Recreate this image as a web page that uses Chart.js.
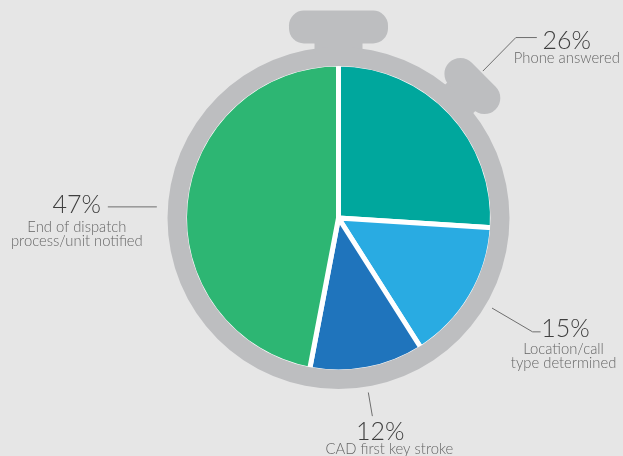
<!DOCTYPE html>
<html>
<head>
<meta charset="utf-8">
<title>Dispatch time breakdown</title>
<script src="https://cdn.jsdelivr.net/npm/chart.js@4.4.1/dist/chart.umd.min.js"></script>
<style>
  html, body { margin: 0; padding: 0; background: #e6e6e6; }
  #wrap { width: 623px; height: 456px; }
</style>
</head>
<body>
<div id="wrap"><canvas id="dispatchChart" width="623" height="456"></canvas></div>
<script>
// slice data, clockwise from 12 o'clock
const stages = [
  ["Phone answered"],
  ["Location/call", "type determined"],
  ["CAD first key stroke"],
  ["End of dispatch", "process/unit notified"],
];
const shares = [26, 15, 12, 47];
const sliceColors = ["#00a79d", "#29abe2", "#1f74bc", "#2db673"];

// leader line + text placement per slice (angles in degrees, offsets in px)
const labelLayout = [
  { shift: -2.3, r0: 206, r1: 253, tail: 21, pctDx: 30, pctDy: 11, subDx: 30, subDy: 25 },
  { shift: -0.2, r0: 178, r1: 225, tail: 8, pctDx: 25, pctDy: 5, subDx: 23, subDy: 22 },
  { shift: 1.1, r0: 177, r1: 201, tail: 0, pctDx: 8, pctDy: 24, subDx: 17, subDy: 38 },
  { shift: -1.9, r0: 182, r1: 182, tail: -49, pctDx: -31, pctDy: 6, subDx: -31, subDy: 25 },
];

const RING = "#bdbec0";

function pill(ctx, len, thick, r, rad) {
  ctx.beginPath();
  ctx.roundRect(-len / 2, -(r + thick / 2), len, thick, rad);
  ctx.fill();
}

const stopwatchPlugin = {
  id: "stopwatch",
  afterDatasetsDraw(chart) {
    const ctx = chart.ctx;
    const meta = chart.getDatasetMeta(0);
    const first = meta.data[0];
    const cx = first.x, cy = first.y;
    const R = first.outerRadius;

    ctx.save();
    ctx.fillStyle = RING;

    // crown button on top
    ctx.save();
    ctx.translate(cx, cy);
    ctx.fillRect(-24, -(R + 26), 48, 16);
    pill(ctx, 99, 33, R + 37, 15);
    ctx.restore();

    // side button at about 45 degrees
    ctx.save();
    ctx.translate(cx, cy);
    ctx.rotate((45.4 * Math.PI) / 180);
    ctx.fillRect(-20, -(R + 26), 40, 16);
    pill(ctx, 66, 32, R + 34, 16);
    ctx.restore();

    // outer case ring (also hides the outer white border of the slices)
    ctx.beginPath();
    ctx.arc(cx, cy, R + 17, 0, Math.PI * 2);
    ctx.arc(cx, cy, R - 2, 0, Math.PI * 2, true);
    ctx.fill();
    ctx.restore();

    // labels with leader lines
    meta.data.forEach((arc, i) => {
      const lay = labelLayout[i];
      const a = (arc.startAngle + arc.endAngle) / 2 + (lay.shift * Math.PI) / 180;
      const x0 = cx + lay.r0 * Math.cos(a), y0 = cy + lay.r0 * Math.sin(a);
      const x1 = cx + lay.r1 * Math.cos(a), y1 = cy + lay.r1 * Math.sin(a);
      const x2 = x1 + lay.tail;

      ctx.save();
      ctx.strokeStyle = "#6e6e6e";
      ctx.lineWidth = 1;
      ctx.beginPath();
      ctx.moveTo(x0, y0);
      ctx.lineTo(x1, y1);
      ctx.lineTo(x2, y1);
      ctx.stroke();

      ctx.textAlign = "center";
      ctx.textBaseline = "alphabetic";
      ctx.fillStyle = "#3f3f3f";
      ctx.font = "300 25px Lato";
      ctx.fillText(shares[i] + "%", x2 + lay.pctDx, y1 + lay.pctDy);

      ctx.fillStyle = "#666666";
      ctx.font = "300 14.8px Lato";
      stages[i].forEach((line, k) => {
        ctx.fillText(line, x2 + lay.subDx, y1 + lay.subDy + k * 14);
      });
      ctx.restore();
    });
  },
};

function createStopwatchChart() {
  const canvas = document.getElementById("dispatchChart");
  new Chart(canvas.getContext("2d"), {
    type: "pie",
    data: {
      labels: stages.map((s) => s.join(" ")),
      datasets: [
        {
          data: shares,
          backgroundColor: sliceColors,
          borderColor: "#ffffff",
          borderWidth: 5,
        },
      ],
    },
    options: {
      responsive: false,
      animation: false,
      events: [],
      layout: { padding: { left: 182, right: 128, top: 61.5, bottom: 81.5 } },
      plugins: {
        legend: { display: false },
        tooltip: { enabled: false },
      },
    },
    plugins: [stopwatchPlugin],
  });
}

document.addEventListener("DOMContentLoaded", createStopwatchChart);
</script>
</body>
</html>
